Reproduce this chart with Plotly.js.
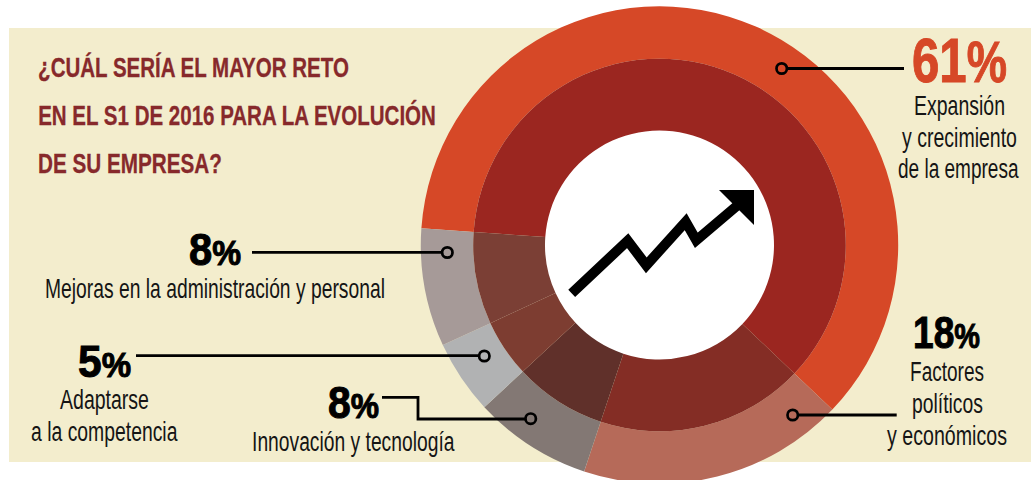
<!DOCTYPE html>
<html><head><meta charset="utf-8">
<script src="https://cdn.plot.ly/plotly-3.0.1.min.js"></script>
<style>html,body{margin:0;padding:0;background:#fff;overflow:hidden;width:1031px;height:480px}#chart{width:1031px;height:490px}</style>
</head><body><div id="chart"></div>
<script>
// Data
const categories = ['Expansión y crecimiento de la empresa','Factores políticos y económicos','Innovación y tecnología','Adaptarse a la competencia','Mejoras en la administración y personal'];
const values = [61, 18, 8, 5, 8];
const outerColors = ['#D64827','#B66A59','#837874','#B1B2B3','#A69A98'];
const innerColors = ['#9B2620','#842D25','#60302A','#7D3D31','#7B3F35'];
const titleLines = ['¿CUÁL SERÍA EL MAYOR RETO','EN EL S1 DE 2016 PARA LA EVOLUCIÓN','DE SU EMPRESA?'];
const labelLines = [['Expansión','y crecimiento','de la empresa'],['Factores','políticos','y económicos'],['Innovación y tecnología'],['Adaptarse','a la competencia'],['Mejoras en la administración y personal']];

// Layout constants (pixels in the page)
const W = 1031, H = 490, CX = 659.5, CY = 245, R1 = 238.7, R2 = 186.3, R3 = 114.5;
const px = x => x / W, py = y => 1 - y / H;
const FONT = '"Liberation Sans",Arial,sans-serif';
const domain = r => ({x:[px(CX - r), px(CX + r)], y:[py(CY + r), py(CY - r)]});
const ring = (r, hole, colors) => ({type:'pie', values, labels:categories, sort:false, direction:'clockwise', rotation:274,
  hole, domain:domain(r), textinfo:'none', hoverinfo:'skip', showlegend:false, marker:{colors, line:{width:0}}});
const traces = [ring(R1, R2 / R1, outerColors), ring(R2, R3 / R2, innerColors)];

const rect = (x0,y0,x1,y1,fill,layer) => ({type:'rect',xref:'paper',yref:'paper',x0:px(x0),x1:px(x1),y0:py(y0),y1:py(y1),fillcolor:fill,line:{width:0},layer});
const circle = (x,y,r,fill,line,lw,layer) => ({type:'circle',xref:'paper',yref:'paper',x0:px(x-r),x1:px(x+r),y0:py(y+r),y1:py(y-r),fillcolor:fill,line:{color:line,width:lw},layer});
const path = (pts,close,fill,lw) => ({type:'path',xref:'paper',yref:'paper',layer:'above',
  path:pts.map((p,i)=>(i?'L':'M')+px(p[0])+' '+py(p[1])).join(' ')+(close?' Z':''),
  fillcolor:fill||'rgba(0,0,0,0)',line:{color:'#000',width:lw}});
const leader = pts => path(pts,false,null,2.8);
const dot = (x,y) => circle(x,y,5.2,'rgba(0,0,0,0)','#000',2.7,'above');

const shapes = [
  rect(9,28,1031,462,'#F3EDCD','below'),
  circle(CX,CY,R3+1,'#FFFFFF','#FFFFFF',0,'below'),
  leader([[904,68.5],[787,68.5]]), dot(781.7,68.5),
  leader([[896.7,415],[798,415]]), dot(792.7,415),
  leader([[382,397.3],[418,397.3],[418,419],[525.5,419]]), dot(530.7,418.7),
  leader([[136,355.7],[479,355.7]]), dot(484.3,356),
  leader([[252,252.3],[442,252.3]]), dot(447.3,252.5),
  path([[571.7,293.3],[627.7,240.7],[646.3,265.3],[685.7,221.7],[696.3,240.3],[740,203.3]],false,null,10),
  path([[719,190],[754,190],[754,225]],true,'#000',0)
];

const K = 0.34; // centre of the text box above the baseline, in font sizes
const annotations = [], extents = [];
const text = (x0,x1,base,t,size,color,stroke) => {
  annotations.push({xref:'paper',yref:'paper',x:px((x0+x1)/2),y:py(base - K*size),text:t,showarrow:false,
    xanchor:'center',yanchor:'middle',font:{family:FONT,size,color},borderpad:0});
  extents.push({x0,x1,stroke,color});
};
const pct = (v,size,ratio) => '<b>'+v+'<span style="font-size:'+Math.round(size*ratio)+'px">%</span></b>';

const titleGeom = [[38,349,77],[38,436,125],[38,222,173]];
titleLines.forEach((t,i)=>text(titleGeom[i][0],titleGeom[i][1],titleGeom[i][2],'<b>'+t+'</b>',28,'#87292B',0.3));
const pctGeom = [[912,1007,81,63,'#D64827',0.92],[913,980,347.5,45,'#000',0.78],[328,379,417.5,45,'#000',0.78],[78,131,376.5,45,'#000',0.78],[189,241,264.5,45,'#000',0.78]];
values.forEach((v,i)=>{const p=pctGeom[i];text(p[0],p[1],p[2],pct(v,p[3],p[5]),p[3],p[4],1);});
const labelGeom = [[[914,1005,115],[902,1017,147],[898,1019,178]],[[910,984,381],[912,983,413],[887,1007,445]],[[252,455,451]],[[60,149,409],[31,178,441]],[[45,385,298]]];
labelLines.forEach((ls,i)=>ls.forEach((l,j)=>{const g=labelGeom[i][j];text(g[0],g[1],g[2],l,27.5,'#151515',0);}));

Plotly.newPlot('chart',traces,{width:W,height:H,margin:{l:0,r:0,t:0,b:0},paper_bgcolor:'rgba(0,0,0,0)',plot_bgcolor:'rgba(0,0,0,0)',shapes,annotations,showlegend:false},{staticPlot:true,displayModeBar:false}).then(()=>{
  // The reference's lettering is condensed and no condensed face is installed: squeeze each real text to its measured width.
  document.querySelectorAll('#chart .annotation').forEach(g=>{
    const i = +g.getAttribute('data-index'), e = extents[i], t = g.querySelector('text');
    if (e.stroke) { t.style.stroke = e.color; t.style.strokeWidth = e.stroke+'px'; }
    const b = t.getBoundingClientRect();
    const s = (e.x1 - e.x0) / b.width;
    g.setAttribute('transform','matrix('+s+' 0 0 1 '+(e.x0 - s*b.left)+' 0)');
  });
});
</script></body></html>
